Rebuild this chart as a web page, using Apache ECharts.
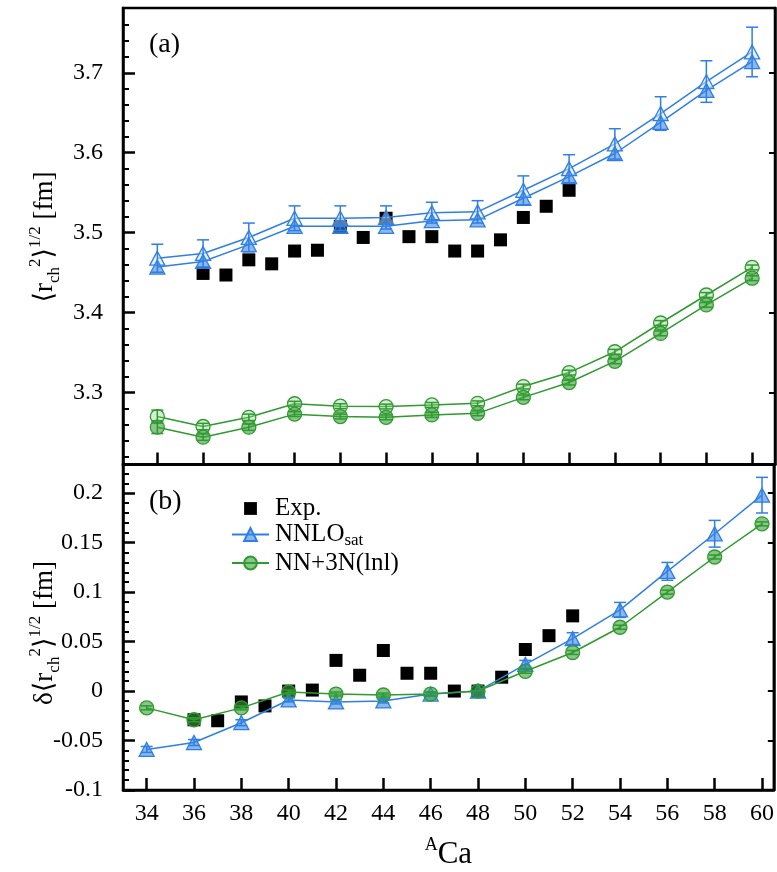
<!DOCTYPE html>
<html><head><meta charset="utf-8">
<script src="https://cdn.jsdelivr.net/npm/echarts@6/dist/echarts.min.js"></script>
<style>html,body{margin:0;padding:0;background:#fff}#c{width:777px;height:872px}</style>
</head><body><div id="c"></div>
<script>
// ---------------- data ----------------
const massNumbers = [34,36,38,40,42,44,46,48,50,52,54,56,58,60];
const expMass = [36,37,38,39,40,41,42,43,44,45,46,47,48,49,50,51,52];
const expRadius = [3.449,3.447,3.466,3.461,3.477,3.478,3.508,3.494,3.518,3.495,3.495,3.477,3.477,3.491,3.519,3.533,3.553];
const expDelta  = [-0.029,-0.030,-0.011,-0.015,0.000,0.001,0.031,0.016,0.041,0.018,0.018,0.000,0.000,0.014,0.042,0.056,0.076];

const nnloRadiusUpper = [3.468,3.474,3.494,3.518,3.518,3.519,3.525,3.526,3.553,3.580,3.611,3.649,3.689,3.726];
const nnloRadiusLower = [3.457,3.464,3.485,3.508,3.508,3.508,3.515,3.516,3.543,3.570,3.599,3.638,3.678,3.714];
const nnloRadiusErr   = [0.0175,0.017,0.018,0.0155,0.0155,0.0145,0.013,0.014,0.018,0.0175,0.019,0.021,0.026,0.031];

const lnlRadiusUpper = [3.270,3.2575,3.269,3.286,3.283,3.2825,3.2845,3.2865,3.3075,3.325,3.351,3.387,3.422,3.4565];
const lnlRadiusLower = [3.2567,3.2442,3.2567,3.273,3.270,3.269,3.272,3.274,3.294,3.3125,3.339,3.374,3.4096,3.443];
const lnlRadiusErr   = [0.008,0.004,0.004,0.003,0.003,0.003,0.003,0.003,0.003,0.003,0.003,0.003,0.003,0.003];

const nnloDelta    = [-0.059,-0.052,-0.032,-0.009,-0.011,-0.010,-0.003,0.000,0.027,0.053,0.082,0.121,0.159,0.198];
const nnloDeltaErr = [0.003,0.003,0.003,0.002,0.002,0.002,0.002,0.000,0.004,0.006,0.0076,0.009,0.0135,0.018];
const lnlDelta     = [-0.017,-0.029,-0.017,-0.001,-0.003,-0.004,-0.003,0.000,0.020,0.039,0.0645,0.100,0.1355,0.169];
const lnlDeltaErr  = [0.002,0.002,0.002,0.002,0.002,0.002,0.002,0.000,0.002,0.002,0.002,0.002,0.002,0.002];

const xTicks = [34,36,38,40,42,44,46,48,50,52,54,56,58,60];
const topYTicks = [3.3,3.4,3.5,3.6,3.7];
const topYMinorTicks = [3.22,3.24,3.26,3.28,3.32,3.34,3.36,3.38,3.42,3.44,3.46,3.48,3.52,3.54,3.56,3.58,3.62,3.64,3.66,3.68,3.72,3.74,3.76];
const bottomYTicks = [-0.1,-0.05,0,0.05,0.1,0.15,0.2];
const bottomYMinorTicks = [-0.09,-0.08,-0.07,-0.06,-0.04,-0.03,-0.02,-0.01,0.01,0.02,0.03,0.04,0.06,0.07,0.08,0.09,0.11,0.12,0.13,0.14,0.16,0.17,0.18,0.19,0.21,0.22];

// ---------------- styles ----------------
const SERIF = '"Liberation Serif","DejaVu Serif",serif';
const BLUE = '#2f7fe3';
const GREEN = '#2f9a2f';
const zip = (a, b) => a.map((v, i) => [v, b[i]]);

function errSeries(xi, yi, xs, ys, errs, color, z) {
  return {
    type: 'custom', xAxisIndex: xi, yAxisIndex: yi, z: z, silent: true,
    data: xs.map((x, i) => [x, ys[i] - errs[i], ys[i] + errs[i]]),
    encode: {x: 0, y: [1, 2]},
    renderItem(params, api) {
      const x = api.value(0);
      const lo = api.coord([x, api.value(1)]);
      const hi = api.coord([x, api.value(2)]);
      const hw = 6;
      const st = {stroke: color, lineWidth: 1.5, fill: null};
      return {type: 'group', children: [
        {type: 'line', shape: {x1: lo[0], y1: lo[1], x2: hi[0], y2: hi[1]}, style: st},
        {type: 'line', shape: {x1: lo[0]-hw, y1: lo[1], x2: lo[0]+hw, y2: lo[1]}, style: st},
        {type: 'line', shape: {x1: hi[0]-hw, y1: hi[1], x2: hi[0]+hw, y2: hi[1]}, style: st}
      ]};
    }
  };
}

const axisLineStyle = {show: true, lineStyle: {color: '#000', width: 2.5}};
function xAxisDef(grid, min, max, labels) {
  return {
    type: 'value', gridIndex: grid, min: min, max: max, position: 'bottom',
    axisLine: {show: true, onZero: false, lineStyle: {color: '#000', width: 2.5}},
    axisTick: {show: true, inside: true, length: 12, lineStyle: {color: '#000', width: 2.5}, customValues: xTicks},
    axisLabel: {show: labels, customValues: xTicks, margin: 12, color: '#000', fontFamily: SERIF, fontSize: 24},
    splitLine: {show: false},
    name: labels ? '{sup|A}{t|Ca}' : '',
    nameLocation: 'middle', nameGap: 46,
    nameTextStyle: {rich: {
      sup: {fontFamily: SERIF, fontSize: 18, color: '#000', verticalAlign: 'top', lineHeight: 18},
      t: {fontFamily: SERIF, fontSize: 31, color: '#000', lineHeight: 38, verticalAlign: 'middle'}
    }}
  };
}
function yAxesDef(grid, min, max, majors, minors) {
  return [
    {type: 'value', gridIndex: grid, min: min, max: max, position: 'left',
     axisLine: axisLineStyle,
     axisTick: {show: true, inside: true, length: 12, lineStyle: {color: '#000', width: 2.5}, customValues: majors},
     axisLabel: {show: true, customValues: majors, margin: 20, color: '#000', fontFamily: SERIF, fontSize: 24},
     splitLine: {show: false}},
    {type: 'value', gridIndex: grid, min: min, max: max, position: 'left', offset: 0,
     axisLine: {show: false},
     axisTick: {show: true, inside: true, length: 6, lineStyle: {color: '#000', width: 2}, customValues: minors},
     axisLabel: {show: false}, splitLine: {show: false}},
    {type: 'value', gridIndex: grid, min: min, max: max, position: 'right', offset: 0,
     axisLine: axisLineStyle,
     axisTick: {show: true, inside: true, length: 6, lineStyle: {color: '#000', width: 2}, customValues: majors},
     axisLabel: {show: false}, splitLine: {show: false}}
  ];
}

function lineSeries(name, xi, yi, xs, ys, symbol, size, color, fill, z) {
  return {
    type: 'line', name: name, xAxisIndex: xi, yAxisIndex: yi, z: z,
    data: zip(xs, ys), symbol: symbol, symbolSize: size, showAllSymbol: true,
    lineStyle: {color: color, width: 1.5},
    itemStyle: {color: fill, borderColor: color, borderWidth: 1.3},
    emphasis: {disabled: true}, animation: false
  };
}

const series = [
  // top panel
  {type: 'line', name: 'Exp. top', xAxisIndex: 0, yAxisIndex: 0, z: 2, data: zip(expMass, expRadius),
   symbol: 'rect', symbolSize: 13, lineStyle: {opacity: 0, width: 0}, itemStyle: {color: '#000'}, emphasis: {disabled: true}},
  lineSeries('NNLO top upper', 0, 0, massNumbers, nnloRadiusUpper, 'triangle', [15, 14], BLUE, 'rgba(210,226,250,0.55)', 3),
  lineSeries('NNLO top lower', 0, 0, massNumbers, nnloRadiusLower, 'triangle', [15, 14], BLUE, 'rgba(60,135,230,0.6)', 3),
  errSeries(0, 0, massNumbers, nnloRadiusUpper, nnloRadiusErr, BLUE, 4),
  lineSeries('lnl top upper', 0, 0, massNumbers, lnlRadiusUpper, 'circle', 14, GREEN, 'rgba(150,210,150,0.4)', 3),
  lineSeries('lnl top lower', 0, 0, massNumbers, lnlRadiusLower, 'circle', 14, GREEN, 'rgba(60,160,60,0.6)', 3),
  errSeries(0, 0, massNumbers, lnlRadiusUpper, lnlRadiusErr, GREEN, 4),
  errSeries(0, 0, massNumbers, lnlRadiusLower, lnlRadiusErr, GREEN, 4),
  // bottom panel
  {type: 'line', name: 'Exp.', xAxisIndex: 1, yAxisIndex: 3, z: 2, data: zip(expMass, expDelta),
   symbol: 'rect', symbolSize: 13, lineStyle: {opacity: 0, width: 0}, itemStyle: {color: '#000'}, emphasis: {disabled: true}},
  lineSeries('NNLO_sat', 1, 3, massNumbers, nnloDelta, 'triangle', [15, 14], BLUE, 'rgba(60,135,230,0.6)', 3),
  errSeries(1, 3, massNumbers, nnloDelta, nnloDeltaErr, BLUE, 4),
  lineSeries('NN+3N(lnl)', 1, 3, massNumbers, lnlDelta, 'circle', 14, GREEN, 'rgba(60,160,60,0.6)', 3),
  errSeries(1, 3, massNumbers, lnlDelta, lnlDeltaErr, GREEN, 4)
];

const chart = echarts.init(document.getElementById('c'), null, {renderer: 'canvas'});
chart.setOption({
  backgroundColor: '#fff',
  animation: false,
  grid: [
    {left: 123, top: 8, width: 652, height: 456.5, show: true, borderColor: '#000', borderWidth: 2.5, backgroundColor: 'transparent'},
    {left: 123, top: 464.5, width: 652, height: 325.5, show: true, borderColor: '#000', borderWidth: 2.5, backgroundColor: 'transparent'}
  ],
  xAxis: [xAxisDef(0, 32.5, 61, false), xAxisDef(1, 33, 60.5, true)],
  yAxis: [].concat(yAxesDef(0, 3.21, 3.781, topYTicks, topYMinorTicks), yAxesDef(1, -0.1, 0.229, bottomYTicks, bottomYMinorTicks)),
  legend: {
    orient: 'vertical', left: 226, top: 491, itemWidth: 37, itemHeight: 16, itemGap: 1,
    symbolKeepAspect: true,
    data: ['Exp.', 'NNLO_sat', 'NN+3N(lnl)'],
    selectedMode: false,
    formatter: n => n === 'NNLO_sat' ? '{t|NNLO}{s|sat}' : '{t|' + n + '}',
    textStyle: {rich: {
      t: {fontFamily: SERIF, fontSize: 25, color: '#000', lineHeight: 30, verticalAlign: 'middle', padding: [0, 0, 0, 1]},
      s: {fontFamily: SERIF, fontSize: 17, color: '#000', lineHeight: 17, verticalAlign: 'bottom'}
    }}
  },
  graphic: [
    {type: 'text', left: 149, top: 31, style: {text: '(a)', font: '28px ' + SERIF, fill: '#000'}},
    {type: 'text', left: 149, top: 488, style: {text: '(b)', font: '28px ' + SERIF, fill: '#000'}},
    {type: 'text', x: 45, y: 237, rotation: Math.PI / 2,
     style: {text: '{m|⟨r}{sub|ch}{sup|2}{m|⟩}{sup|1/2}{m| [fm]}', align: 'center', verticalAlign: 'middle',
       rich: {
         m: {fontFamily: SERIF, fontSize: 27, fill: '#000', lineHeight: 36, verticalAlign: 'middle'},
         sub: {fontFamily: SERIF, fontSize: 17, fill: '#000', lineHeight: 17, verticalAlign: 'bottom'},
         sup: {fontFamily: SERIF, fontSize: 17, fill: '#000', lineHeight: 17, verticalAlign: 'top'}
       }}},
    {type: 'text', x: 45, y: 633, rotation: Math.PI / 2,
     style: {text: '{m|δ⟨r}{sub|ch}{sup|2}{m|⟩}{sup|1/2}{m| [fm]}', align: 'center', verticalAlign: 'middle',
       rich: {
         m: {fontFamily: SERIF, fontSize: 27, fill: '#000', lineHeight: 36, verticalAlign: 'middle'},
         sub: {fontFamily: SERIF, fontSize: 17, fill: '#000', lineHeight: 17, verticalAlign: 'bottom'},
         sup: {fontFamily: SERIF, fontSize: 17, fill: '#000', lineHeight: 17, verticalAlign: 'top'}
       }}}
  ],
  series: series
});
</script>
</body></html>
